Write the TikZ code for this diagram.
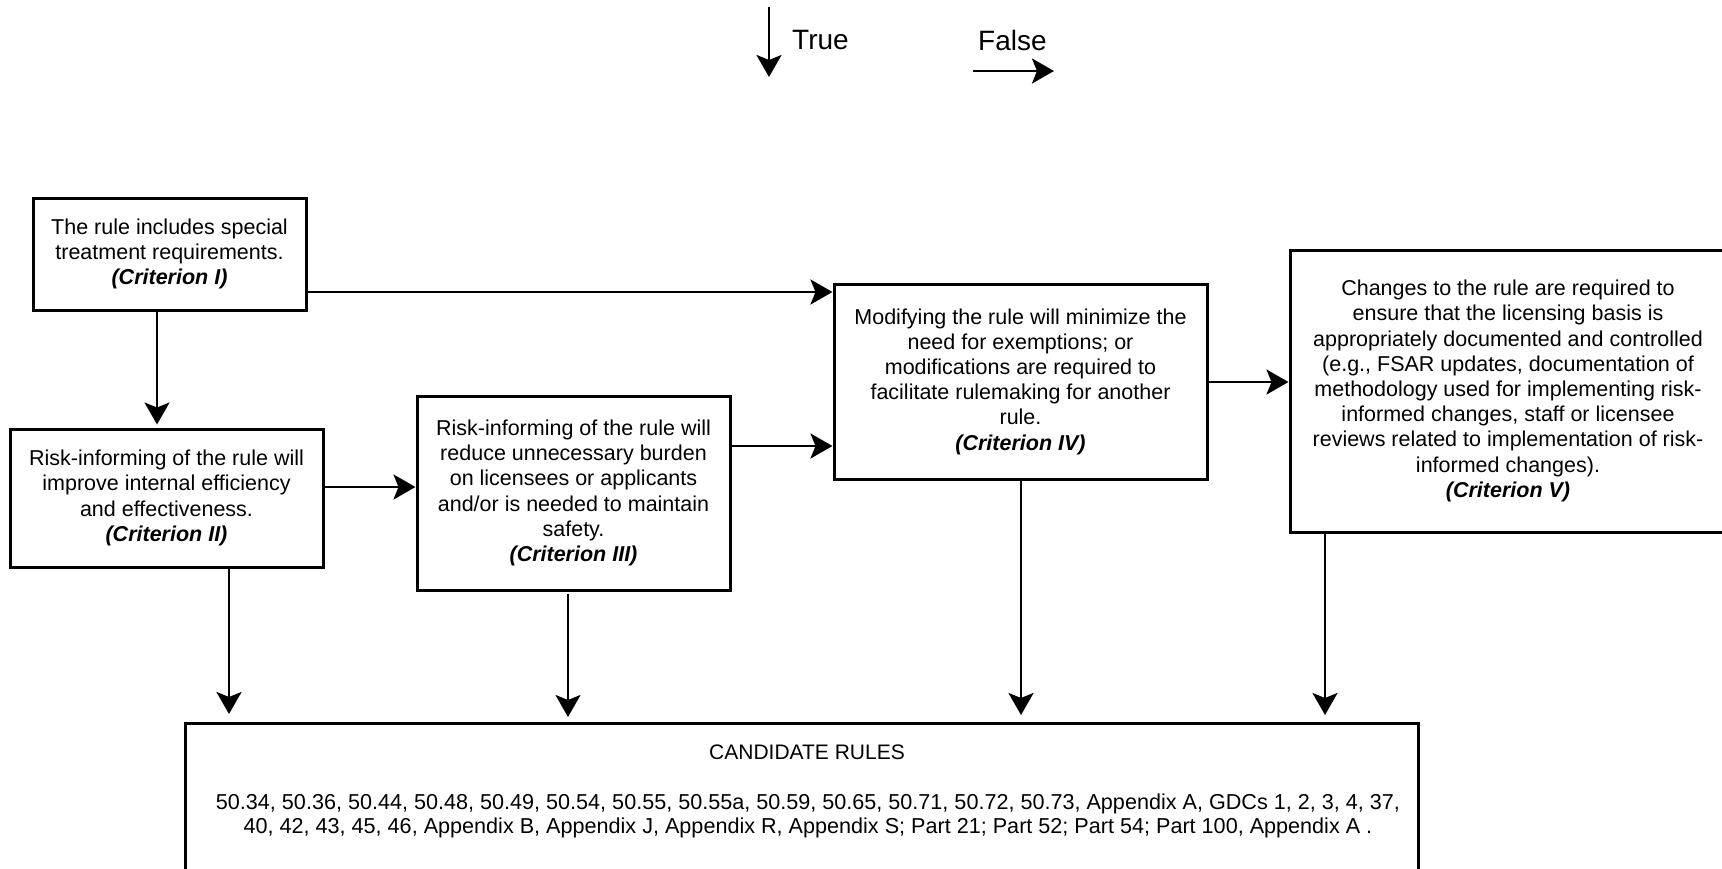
\documentclass[tikz,border=0pt]{standalone}
\usepackage{fontspec}
\setmainfont{Liberation Sans}
\usetikzlibrary{arrows.meta}

\tikzset{
  crit/.style={draw, line width=3pt, rectangle, inner sep=0pt, align=center,
    font=\fontsize{21.5}{25.2}\selectfont},
  arr/.style={line width=2.8pt, -{Stealth[length=22pt,width=25pt,inset=5pt]}},
  lbl/.style={inner sep=0pt, font=\fontsize{28}{32}\selectfont}
}
\newcommand{\crname}[1]{\textbf{\textit{(Criterion #1)}}}

\begin{document}
\begin{tikzpicture}[x=1pt, y=-1pt]
  \useasboundingbox (0,0) rectangle (1722,868);
  \clip (0,0) rectangle (1722,868);

  % legend
  \coordinate (tA) at (769,7);
  \coordinate (tB) at (769,77);
  \draw[arr] (tA) -- (tB);
  \node[lbl, anchor=west] (tlab) at (792,40) {True};
  \node[lbl, anchor=west] (flab) at (978,40) {False};
  \coordinate (fA) at (973,71);
  \coordinate (fB) at (1054,71);
  \draw[arr] (fA) -- (fB);

  % criteria boxes
  \node[crit, minimum width=273, minimum height=112] (c1) at (169.5,254)
    {The rule includes special\\treatment requirements.\\\crname{I}};
  \node[crit, minimum width=313, minimum height=138] (c2) at (166.5,498)
    {Risk-informing of the rule will\\improve internal efficiency\\and effectiveness.\\\crname{II}};
  \node[crit, minimum width=313, minimum height=194] (c3) at (573.5,493)
    {Risk-informing of the rule will\\reduce unnecessary burden\\on licensees or applicants\\and/or is needed to maintain\\safety.\\\crname{III}};
  \node[crit, minimum width=373, minimum height=195] (c4) at (1020.5,381.5)
    {Modifying the rule will minimize the\\need for exemptions; or\\modifications are required to\\facilitate rulemaking for another\\rule.\\\crname{IV}};
  \node[crit, minimum width=436, minimum height=282] (c5) at (1508,391)
    {Changes to the rule are required to\\ensure that the licensing basis is\\appropriately documented and controlled\\(e.g., FSAR updates, documentation of\\methodology used for implementing risk-\\informed changes, staff or licensee\\reviews related to implementation of risk-\\informed changes).\\\crname{V}};

  % candidate rules box
  \node[crit, minimum width=1233, minimum height=300, anchor=north] (cand) at (801.5,722) {};
  \node[inner sep=0pt, font=\fontsize{21}{25}\selectfont] (candh) at (807,752) {CANDIDATE RULES};
  \node[inner sep=0pt, align=center, font=\fontsize{21.6}{24}\selectfont] (candl) at (808,816)
    {50.34, 50.36, 50.44, 50.48, 50.49, 50.54, 50.55, 50.55a, 50.59, 50.65, 50.71, 50.72, 50.73, Appendix A, GDCs 1, 2, 3, 4, 37,\\
     40, 42, 43, 45, 46, Appendix B, Appendix J, Appendix R, Appendix S; Part 21; Part 52; Part 54; Part 100, Appendix A .};

  % "true" / "false" flow
  \coordinate (x1) at (157,0);
  \coordinate (y14) at (0,292);
  \coordinate (y23) at (0,487);
  \coordinate (y34) at (0,446);
  \coordinate (y45) at (0,382);
  \draw[arr, line width=2pt, shorten >=3pt] (c1.south -| x1) -- (c2.north -| x1);
  \draw[arr] (c1.east |- y14) -- (c4.west |- y14);
  \draw[arr] (c2.east |- y23) -- (c3.west |- y23);
  \draw[arr] (c3.east |- y34) -- (c4.west |- y34);
  \draw[arr] (c4.east |- y45) -- (c5.west |- y45);

  % arrows into the candidate rules
  \coordinate (x2) at (229,0);
  \coordinate (x3) at (568,0);
  \coordinate (x4) at (1021,0);
  \coordinate (x5) at (1325,0);
  \draw[arr, shorten >=8pt] (c2.south -| x2) -- (cand.north -| x2);
  \draw[arr, shorten >=5pt, shorten <=2pt] (c3.south -| x3) -- (cand.north -| x3);
  \draw[arr, shorten >=7pt] (c4.south -| x4) -- (cand.north -| x4);
  \draw[arr, shorten >=7pt] (c5.south -| x5) -- (cand.north -| x5);
\end{tikzpicture}
\end{document}
